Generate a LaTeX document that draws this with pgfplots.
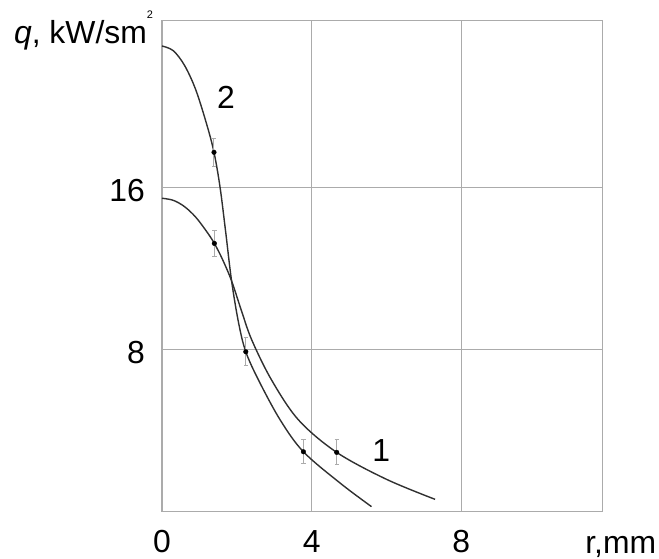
\documentclass[border=0pt]{standalone}
\usepackage{fontspec}
\setmainfont{Liberation Sans}
\usepackage{pgfplots}
\pgfplotsset{compat=1.18}
\definecolor{gridgray}{HTML}{ABABAB}
\definecolor{curve}{HTML}{303030}
\begin{document}
\begin{tikzpicture}
\begin{axis}[
  scale only axis, width=440.7bp, height=491bp,
  xmin=0, xmax=11.78, ymin=0, ymax=24.25,
  xtick={0,4,8}, ytick={8,16},
  grid=major, major grid style={gridgray, line width=1.2bp},
  axis line style={gridgray, line width=1.4bp},
  major tick length=0pt,
  /pgf/number format/assume math mode=true,
  tick label style={font=\fontsize{32}{32}\selectfont, inner sep=0pt},
  xticklabel style={anchor=base, yshift=-41bp},
  yticklabel style={anchor=east, xshift=-17bp, yshift=-3bp},
  clip=false,
]
% curve 2
\addplot[curve, line width=1.4bp, smooth, tension=0.55] coordinates {
 (0,23.0) (0.3,22.77) (0.6,22.05) (0.9,20.85) (1.2,19.1) (1.39,17.75)
 (1.55,16.05) (1.70,13.85) (1.86,11.4) (2.05,9.3) (2.24,7.9) (2.58,6.5)
 (3.16,4.53) (3.78,2.96) (4.77,1.40) (5.6,0.25)
};
% curve 1
\addplot[curve, line width=1.4bp, smooth, tension=0.55] coordinates {
 (0,15.48) (0.3,15.38) (0.6,15.07) (0.9,14.55) (1.2,13.82) (1.40,13.25)
 (1.62,12.45) (1.86,11.4) (2.12,9.95) (2.40,8.48)
 (2.93,6.5) (3.65,4.53) (4.67,2.93) (6.0,1.6) (7.3,0.61)
};
% measured points with error bars
\addplot[only marks, mark=*, mark size=2.3bp, black,
  error bars/.cd, y dir=both, y explicit,
  error bar style={gridgray, line width=1bp},
  error mark options={rotate=90, mark size=2.2bp, gridgray, line width=1bp}]
 coordinates {
 (1.39,17.75) +- (0,0.68)
 (2.24,7.9) +- (0,0.68)
 (3.78,2.96) +- (0,0.6)
 (1.40,13.25) +- (0,0.66)
 (4.67,2.93) +- (0,0.62)
};
\node[anchor=base west, inner sep=0pt, font=\fontsize{32}{32}\selectfont] at (axis cs:-3.96,23.13)
  {\textit{q}, kW/sm\raisebox{0.78em}{\fontsize{11}{11}\selectfont 2}};
\node[anchor=base west, inner sep=0pt, font=\fontsize{32}{32}\selectfont] at (axis cs:11.31,-2.05) {r,mm};
\node[inner sep=0pt, font=\fontsize{32}{32}\selectfont] at (axis cs:1.71,20.45) {2};
\node[inner sep=0pt, font=\fontsize{32}{32}\selectfont] at (axis cs:5.86,3.0) {1};
\end{axis}
\path (current axis.south west) ++(-162bp,-47.3bp) rectangle ++(659bp,559bp);
\end{tikzpicture}
\end{document}
